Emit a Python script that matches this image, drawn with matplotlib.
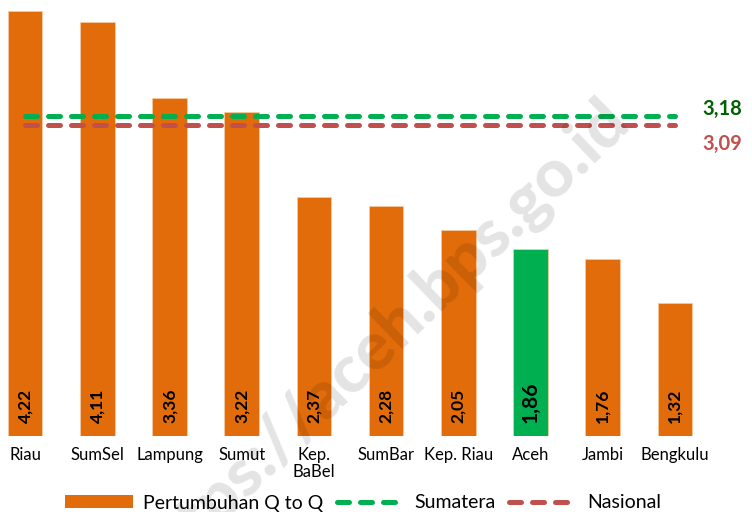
import matplotlib
matplotlib.use("Agg")
import matplotlib.pyplot as plt
from matplotlib import font_manager
from matplotlib.patches import Patch
from matplotlib.lines import Line2D

categories = ["Riau", "SumSel", "Lampung", "Sumut", "Kep.\nBaBel", "SumBar",
              "Kep. Riau", "Aceh", "Jambi", "Bengkulu"]
values = [4.22, 4.11, 3.36, 3.22, 2.37, 2.28, 2.05, 1.86, 1.76, 1.32]
labels = ["4,22", "4,11", "3,36", "3,22", "2,37", "2,28", "2,05", "1,86", "1,76", "1,32"]
sumatera = 3.18
nasional = 3.09
sumatera_label = "3,18"
nasional_label = "3,09"
highlight = "Aceh"
watermark = "https://aceh.bps.go.id"

ORANGE = "#E36C0A"
GREEN = "#00B050"
RED = "#C0504D"
DKGREEN = "#006100"

# pick families that really have heavy faces installed
def _w(f):
    if isinstance(f.weight, int):
        return f.weight
    return {"bold": 700, "heavy": 800, "extra bold": 800, "black": 900}.get(str(f.weight).lower(), 400)

bold_fams, black_fams = set(), set()
for f in font_manager.fontManager.ttflist:
    if _w(f) >= 700:
        bold_fams.add(f.name)
    if _w(f) >= 800:
        black_fams.add(f.name)
BOLDFAM = next((c for c in ["Lato", "Open Sans", "Noto Sans", "Roboto", "Liberation Sans"] if c in bold_fams),
               "DejaVu Sans")
BOLD = [BOLDFAM, 'DejaVu Sans']
WMFAM = next((c for c in ["Lato", "Open Sans", "Noto Sans", "Roboto", "Inter"] if c in black_fams), None)
if WMFAM is None:
    WMFAM, WMWEIGHT = "DejaVu Sans", "bold"
else:
    WMWEIGHT = 900
WM = [WMFAM, 'DejaVu Sans']

plt.rcParams['font.family'] = ['Lato', 'DejaVu Sans']

fig = plt.figure(figsize=(7.52, 5.12), dpi=100)
ax = fig.add_axes([-11/752, 76/512, 722/752, 436/512])

x = list(range(len(categories)))
colors = [GREEN if c == highlight else ORANGE for c in categories]
ax.bar(x, values, width=0.48, color=colors, edgecolor="#F5C9A0", linewidth=0.6, zorder=2)

for xi, lab, c in zip(x, labels, categories):
    big = c == highlight
    ax.text(xi, 0.13, lab, rotation=90, ha="center", va="bottom", family=BOLD,
            fontsize=15 if big else 12.5, fontweight="bold", color="black", zorder=4)

lw = 3.6
ax.plot([x[0], x[-1]], [sumatera, sumatera], color=GREEN, lw=lw,
        dashes=(2.4, 2.2), dash_capstyle="round", zorder=3)
ax.plot([x[0], x[-1]], [nasional, nasional], color=RED, lw=lw,
        dashes=(2.4, 2.2), dash_capstyle="round", zorder=3)

ax.text(9.38, 3.25, sumatera_label, color=DKGREEN, fontsize=14.5, fontweight="bold",
        family=BOLD, ha="left", va="center", clip_on=False)
ax.text(9.38, 2.90, nasional_label, color=RED, fontsize=14.5, fontweight="bold",
        family=BOLD, ha="left", va="center", clip_on=False)

ax.set_xlim(-0.5, 9.5)
ax.set_ylim(0, 4.33)
ax.set_xticks(x)
ax.set_xticklabels(categories, fontsize=12, linespacing=1.05)
ax.tick_params(axis="x", length=0, pad=8)
ax.set_yticks([])
for s in ax.spines.values():
    s.set_visible(False)

handles = [Patch(facecolor=ORANGE, edgecolor="none"),
           Line2D([0], [0], color=GREEN, lw=lw, dashes=(2.4, 2.2), dash_capstyle="round"),
           Line2D([0], [0], color=RED, lw=lw, dashes=(2.4, 2.2), dash_capstyle="round")]
leg = fig.legend(handles, ["Pertumbuhan Q to Q", "Sumatera", "Nasional"],
                 loc="center", bbox_to_anchor=(363/752, 9/512), ncol=3, frameon=False,
                 fontsize=14, handlelength=3.5, handleheight=0.6, columnspacing=0.7,
                 handletextpad=0.5, borderpad=0)

# watermark: scale font so the string spans ~664 px along a 44 degree diagonal
renderer = fig.canvas.get_renderer()
probe = fig.text(0, 0, watermark, fontsize=40, fontweight=WMWEIGHT, family=WM)
wpx = probe.get_window_extent(renderer).width
probe.remove()
wm_size = 40 * 664 / wpx
fig.text(632/752, 1 - 124/512, watermark, rotation=44, rotation_mode="anchor",
         ha="right", va="baseline", fontsize=wm_size, fontweight=WMWEIGHT, family=WM,
         color="black", alpha=0.11, zorder=10)

fig.savefig("out.png", dpi=100)
